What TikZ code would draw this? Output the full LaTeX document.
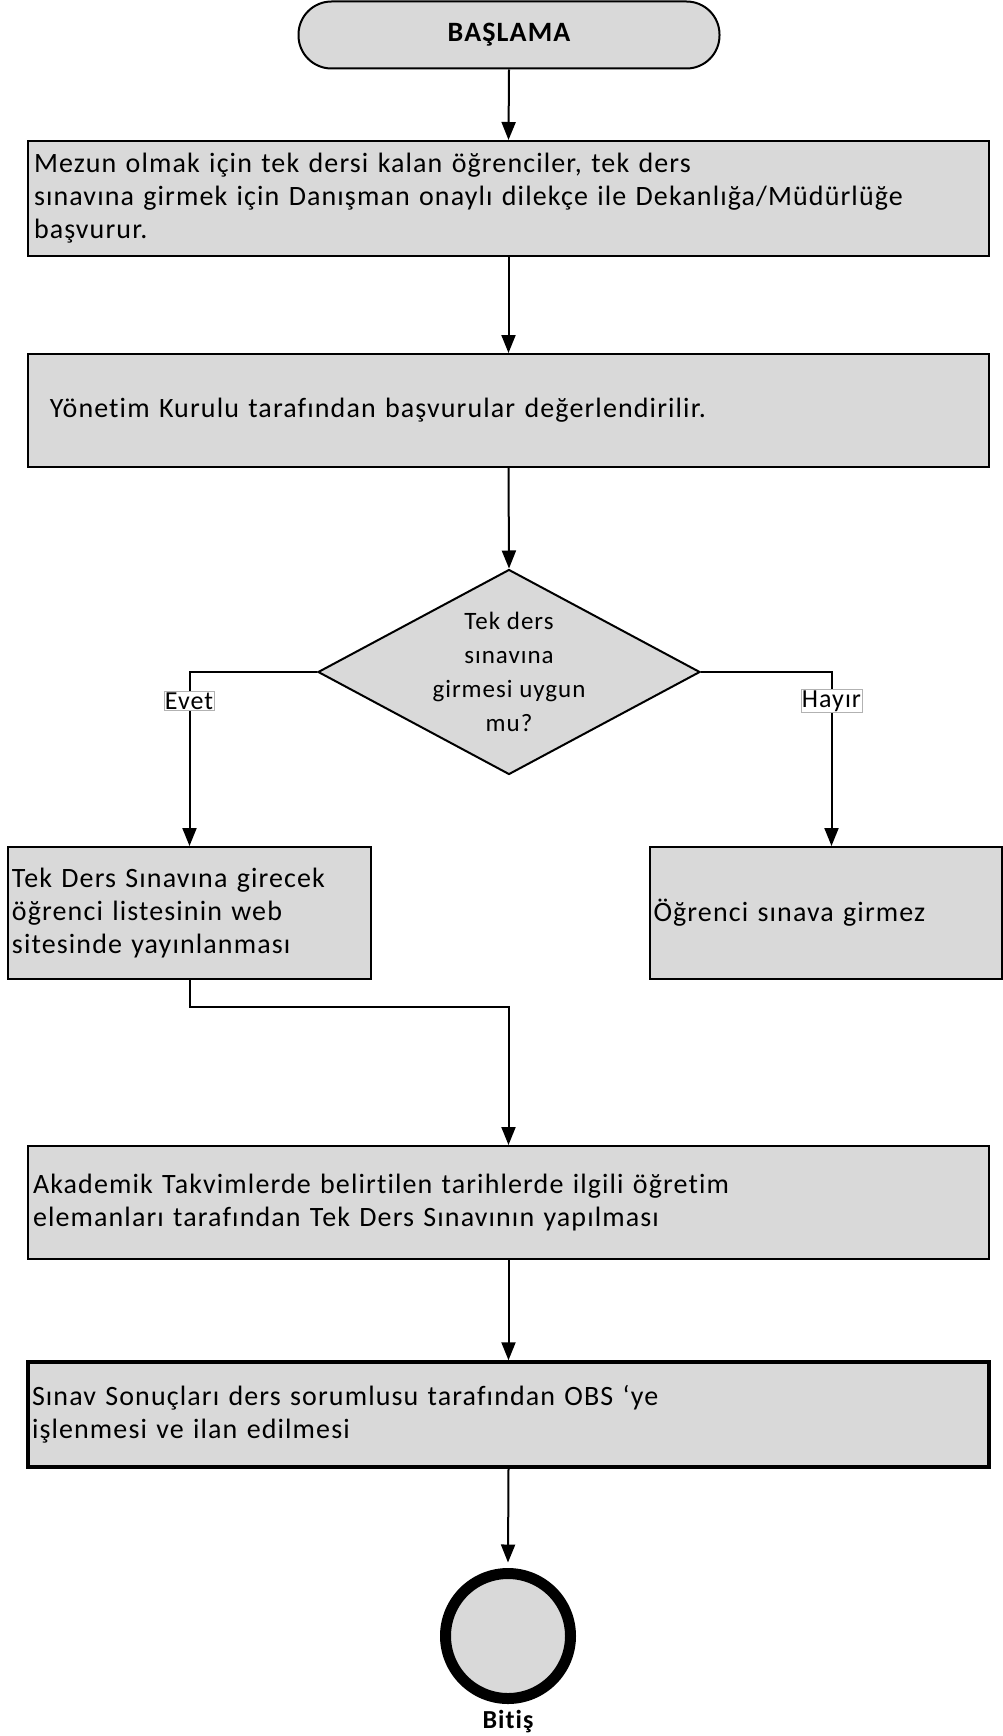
\documentclass[tikz,border=0pt]{standalone}
\usepackage{fontspec}
\setmainfont{Carlito}[LetterSpace=4,Ligatures=NoCommon]
\usetikzlibrary{arrows.meta,shapes.geometric}
\definecolor{boxgray}{HTML}{D9D9D9}
\tikzset{
 proc/.style={draw, fill=boxgray, line width=2pt, inner xsep=6pt, inner ysep=0pt, align=left, font=\fontsize{28}{33}\selectfont},
 conn/.style={line width=2pt, -{Triangle[length=18pt,width=14pt]}},
 lbl/.style={draw=gray!60, fill=white, line width=0.8pt, inner xsep=1pt, inner ysep=1pt, font=\fontsize{26}{28}\selectfont},
}
\begin{document}
\begin{tikzpicture}[x=1pt,y=-1pt]
\useasboundingbox (0,0) rectangle (1003,1736);
\node[draw, fill=boxgray, line width=2pt, rounded corners=33pt, minimum width=421pt, minimum height=67pt, font=\bfseries\fontsize{28}{30}\selectfont] (start) at (509,35) {BAŞLAMA};
\node[proc, text width=949pt, minimum height=115pt] (b1) at (508.5,198.5) {Mezun olmak için tek dersi kalan öğrenciler, tek ders\\ sınavına girmek için Danışman onaylı dilekçe ile Dekanlığa/Müdürlüğe\\ başvurur.};
\node[proc, text width=949pt, minimum height=113pt] (b2) at (508.5,410.5) {\hspace*{16pt}Yönetim Kurulu tarafından başvurular değerlendirilir.};
\node[diamond, draw, fill=boxgray, line width=2pt, minimum width=382pt, minimum height=205pt, inner sep=0pt] (d) at (509,672) {};
\node[align=center, font=\fontsize{25}{34}\selectfont] (dt) at (d.center) {Tek ders\\sınavına\\girmesi uygun\\mu?};
\node[proc, inner xsep=4pt, text width=355pt, minimum height=132pt] (lb) at (189.5,913) {Tek Ders Sınavına girecek\\öğrenci listesinin web\\sitesinde yayınlanması};
\node[proc, inner xsep=4pt, text width=344pt, minimum height=132pt] (rb) at (825.5,913) {Öğrenci sınava girmez};
\node[proc, inner xsep=5pt, text width=951pt, minimum height=113pt] (b5) at (508.5,1202.5) {Akademik Takvimlerde belirtilen tarihlerde ilgili öğretim\\elemanları tarafından Tek Ders Sınavının yapılması};
\node[proc, line width=3.5pt, inner xsep=4pt, text width=953pt, minimum height=105pt] (b6) at (508.5,1414.5) {Sınav Sonuçları ders sorumlusu tarafından OBS ‘ye\\işlenmesi ve ilan edilmesi};
\node[circle, draw, line width=11pt, fill=boxgray, minimum size=125pt, inner sep=0pt] (end) at (508,1636) {};
\node[font=\bfseries\fontsize{26}{28}\selectfont] (bitis) at (508,1722) {Bitiş};
\coordinate (jn) at (508.5,1007);
\draw[conn] (start.south) -- (b1.north);
\draw[conn] (b1.south) -- (b2.north);
\draw[conn] (b2.south) -- (d.north);
\draw[conn] (d.west) -| (lb.north);
\draw[conn] (d.east) -| ([xshift=6pt]rb.north);
\draw[conn] (lb.south) |- (jn) -- (b5.north);
\draw[conn] (b5.south) -- (b6.north);
\draw[conn] (b6.south) -- ([yshift=5.5pt]end.north);
\node[lbl] (evet) at (189,701) {Evet};
\node[lbl] (hayir) at (831.5,701) {Hayır};
\end{tikzpicture}
\end{document}
